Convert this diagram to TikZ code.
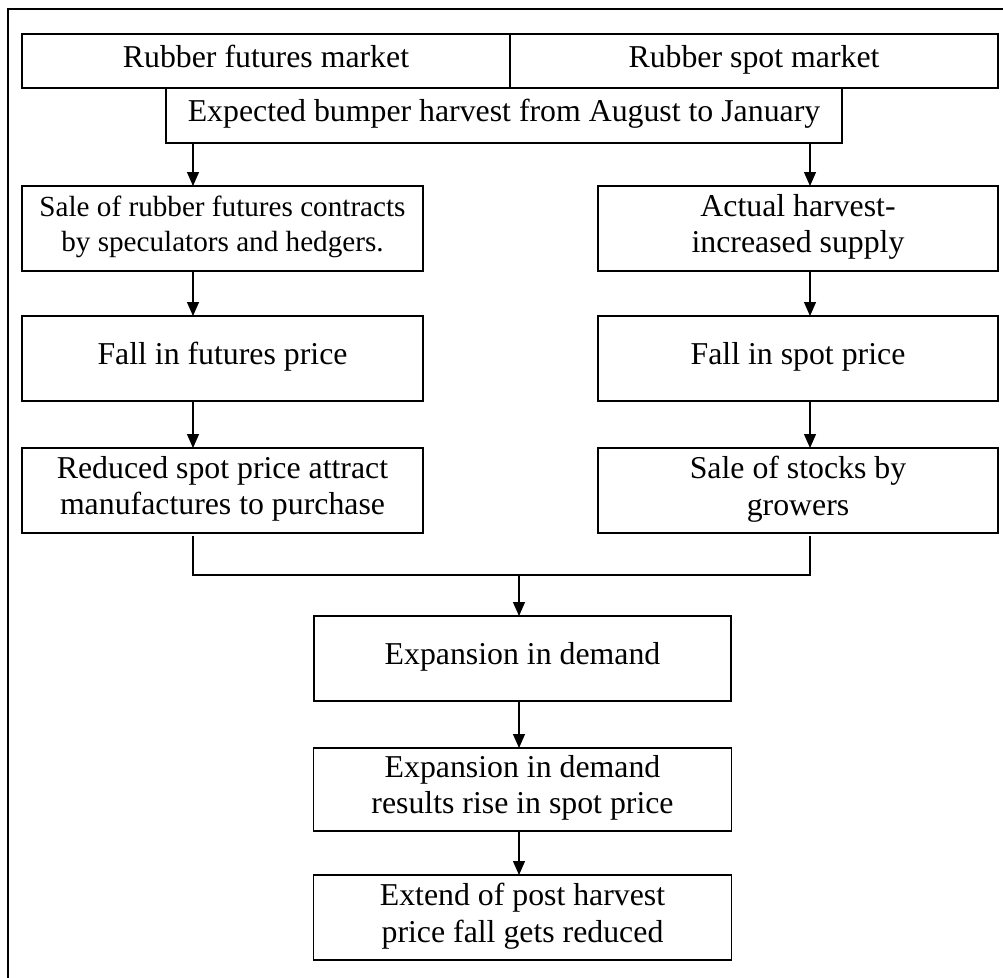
\documentclass[tikz,border=0pt]{standalone}
\usepackage{fontspec}
\setmainfont{Liberation Serif}
\usepackage{tikz}
\usetikzlibrary{positioning,arrows.meta}
\tikzstyle{flowbox} = [draw=black, line width=0.7pt, fill=white,
    rectangle, outer sep=0pt, inner sep=0pt, align=center,
    font=\fontsize{18.1}{20.8}\selectfont, text depth=0.55em]
\tikzstyle{smalltext} = [font=\fontsize{16.6}{19.8}\selectfont]
\tikzstyle{flowarrow} = [draw=black, line width=0.7pt,
    -{Triangle[length=0.28cm,width=0.24cm]}]
\tikzstyle{flowline} = [draw=black, line width=0.7pt]

\begin{document}
\begin{tikzpicture}
    \useasboundingbox (0,0) rectangle (20.06,-19.54);
    % outer frame, only the left and top edges show
    \draw[line width=1.5pt] (0.16,-20.5) |- (21,-0.18);

    % top row
    \node [flowbox, minimum width=9.76cm, minimum height=1.08cm] (futures) at (5.32,-1.22) {Rubber futures market};
    \node [flowbox, minimum width=9.76cm, minimum height=1.08cm] (spot) at (15.08,-1.22) {Rubber spot market};
    \draw[line width=1.4pt] (futures.north east) -- (futures.south east);
    \node [flowbox, minimum width=13.52cm, minimum height=1.10cm] (expected) at (10.08,-2.31) {Expected bumper harvest from August to January};

    % arrow columns
    \coordinate (colL) at (3.86,0);
    \coordinate (colR) at (16.20,0);
    \coordinate (colM) at (10.38,0);

    % futures side
    \node [flowbox, smalltext, minimum width=8.02cm, minimum height=1.70cm] (saleL) at (4.45,-4.57) {Sale of rubber futures contracts\\by speculators and hedgers.};
    \node [flowbox, minimum width=8.02cm, minimum height=1.70cm, below=0.90cm of saleL] (fallL) {Fall in futures price};
    \node [flowbox, minimum width=8.02cm, minimum height=1.70cm, below=0.94cm of fallL] (reducedL) {Reduced spot price attract\\manufactures to purchase};

    % spot side
    \node [flowbox, minimum width=8.00cm, minimum height=1.70cm] (actualR) at (15.96,-4.57) {Actual harvest-\\increased supply};
    \node [flowbox, minimum width=8.00cm, minimum height=1.70cm, below=0.90cm of actualR] (fallR) {Fall in spot price};
    \node [flowbox, minimum width=8.00cm, minimum height=1.70cm, below=0.94cm of fallR] (stocksR) {Sale of stocks by\\growers};

    % common outcome
    \node [flowbox, minimum width=8.34cm, minimum height=1.70cm] (expand) at (10.45,-13.17) {Expansion in demand};
    \node [flowbox, minimum width=8.36cm, minimum height=1.66cm, below=0.94cm of expand] (rise) {Expansion in demand\\results rise in spot price};
    \node [flowbox, minimum width=8.36cm, minimum height=1.70cm, below=0.88cm of rise] (extend) {Extend of post harvest\\price fall gets reduced};

    \draw[flowarrow] (expected.south -| colL) -- (saleL.north -| colL);
    \draw[flowarrow] (saleL.south -| colL) -- (fallL.north -| colL);
    \draw[flowarrow] (fallL.south -| colL) -- (reducedL.north -| colL);
    \draw[flowarrow] (expected.south -| colR) -- (actualR.north -| colR);
    \draw[flowarrow] (actualR.south -| colR) -- (fallR.north -| colR);
    \draw[flowarrow] (fallR.south -| colR) -- (stocksR.north -| colR);

    \coordinate (join) at (10.38,-11.50);
    \draw[flowline, shorten <=0.06cm] (reducedL.south -| colL) |- (join);
    \draw[flowline, shorten <=0.06cm] (stocksR.south -| colR) |- (join);
    \draw[flowarrow] (join) -- (expand.north -| colM);
    \draw[flowarrow] (expand.south -| colM) -- (rise.north -| colM);
    \draw[flowarrow] (rise.south -| colM) -- (extend.north -| colM);
\end{tikzpicture}
\end{document}
